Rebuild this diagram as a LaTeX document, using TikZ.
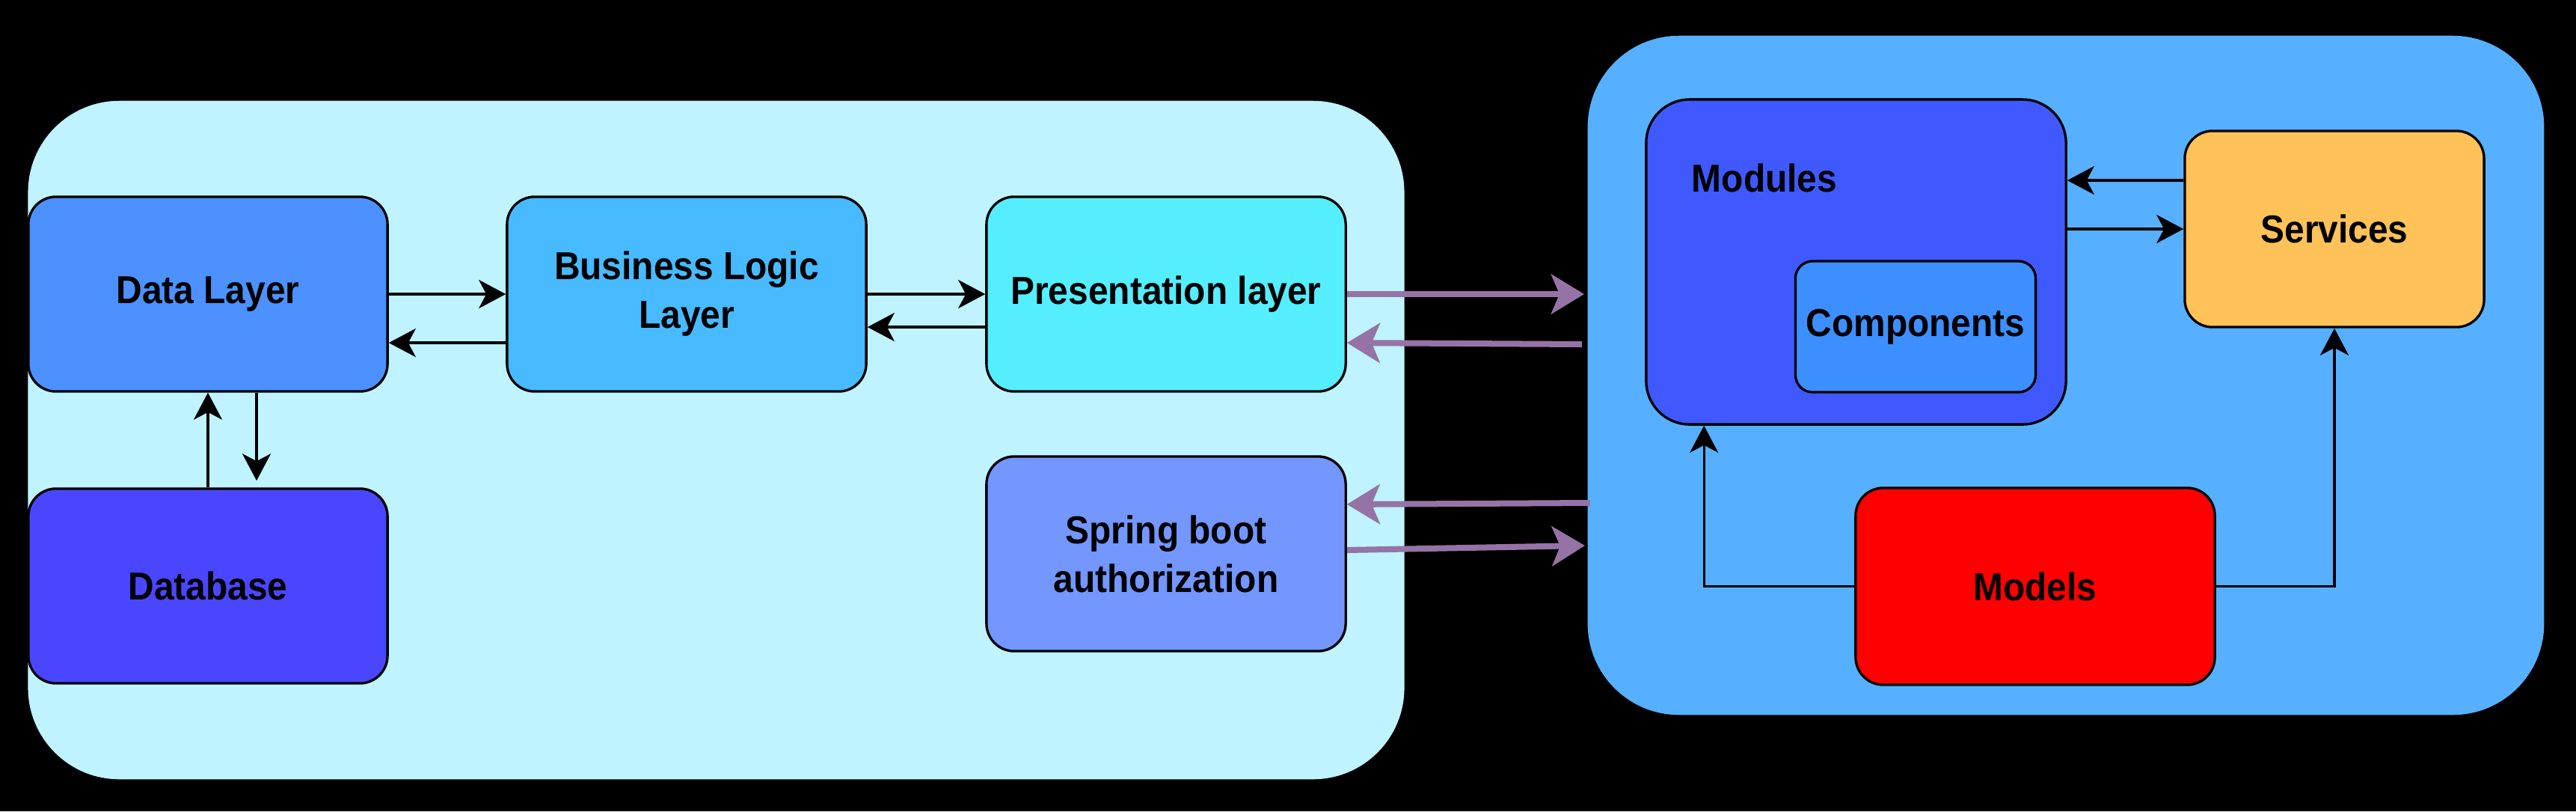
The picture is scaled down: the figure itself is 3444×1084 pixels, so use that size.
\documentclass[tikz,border=0pt]{standalone}
\usepackage{fontspec}
\setmainfont{Liberation Sans}[FakeStretch=0.92]
\usetikzlibrary{arrows.meta,calc}
\definecolor{lcfill}{HTML}{BFF3FF}
\definecolor{rcfill}{HTML}{57B0FF}
\definecolor{datafill}{HTML}{4C91FF}
\definecolor{bllfill}{HTML}{48BAFF}
\definecolor{presfill}{HTML}{55EEFF}
\definecolor{dbfill}{HTML}{4A46FF}
\definecolor{springfill}{HTML}{7396FF}
\definecolor{modfill}{HTML}{3F59FF}
\definecolor{compfill}{HTML}{3D8FFF}
\definecolor{servfill}{HTML}{FFC259}
\definecolor{modelfill}{HTML}{FF0000}
\definecolor{purp}{HTML}{9673A6}
\begin{document}
\begin{tikzpicture}[x=0.01cm,y=-0.01cm,
  every node/.style={font=\fontsize{14.8pt}{18.5pt}\selectfont\bfseries, text=black},
  cont/.style={draw=none, rounded corners=1.22cm, inner sep=0pt},
  box/.style={draw=black, line width=0.94pt, rounded corners=0.37cm, align=center, inner sep=0pt, minimum width=4.8cm, minimum height=2.6cm},
  blk/.style={draw=black, line width=0.94pt, -{Stealth[length=0.36cm,width=0.38cm,inset=0.1cm]}},
  prp/.style={draw=purp, line width=2.28pt, -{Stealth[length=0.44cm,width=0.53cm,inset=0.11cm]}},
]
\fill[black] (0,0) rectangle (3444,1084);
\useasboundingbox (0,0) rectangle (3444,1084);

\node[cont, fill=lcfill, minimum width=18.39cm, minimum height=9.06cm] (lc) at (957.5,588) {};
\node[cont, fill=rcfill, minimum width=12.78cm, minimum height=9.07cm] (rc) at (2762,501.5) {};

\node[box, fill=datafill] (data) at (278,393) {Data Layer};
\node[box, fill=bllfill] (bll) at (918,393) {Business Logic\\Layer};
\node[box, fill=presfill] (pres) at (1559,393) {Presentation layer};
\node[box, fill=dbfill] (db) at (278,783) {Database};
\node[box, fill=springfill] (spring) at (1559,740) {Spring boot\\authorization};
\node[box, fill=modfill, minimum width=5.61cm, minimum height=4.34cm, rounded corners=0.58cm] (mod) at (2481.5,350) {};
\node (modlbl) at (2359,238) {Modules};
\node[box, fill=compfill, minimum width=3.21cm, minimum height=1.75cm, rounded corners=0.23cm] (comp) at (2561,436.5) {Components};
\node[box, fill=servfill, minimum width=4.0cm, minimum height=2.62cm] (serv) at (3121,306) {Services};
\node[box, fill=modelfill, minimum width=4.8cm, minimum height=2.63cm] (models) at (2721,783.5) {Models};

\draw[blk] (data.east) -- (bll.west);
\draw[blk] ([yshift=-0.65cm]bll.west) -- ([yshift=-0.65cm]data.east);
\draw[blk] (bll.east) -- (pres.west);
\draw[blk] ([yshift=-0.44cm]pres.west) -- ([yshift=-0.44cm]bll.east);
\draw[blk] (db.north) -- (data.south);
\draw[blk] ([xshift=0.65cm]data.south) -- ([xshift=0.65cm,yshift=0.09cm]db.north);

\coordinate (s1) at ($(serv.west)+(0,-65)$);
\draw[blk] (s1) -- (s1 -| mod.east);
\draw[blk] (serv.west -| mod.east) -- (serv.west);
\coordinate (mA) at ($(mod.south west)+(79,0)$);
\draw[blk] (models.west) -| (mA);
\draw[blk] (models.east) -| (serv.south);

\coordinate (pe) at (pres.east -| rc.west);
\coordinate (se) at (spring.east -| rc.west);
\coordinate (r1) at ($(pe)+(-4,0)$);
\coordinate (r2) at ($(pe)+(-7,67)$);
\coordinate (r3) at ($(se)+(4,-68)$);
\coordinate (r4) at ($(se)+(-3,-11)$);
\draw[prp] (pres.east) -- (r1);
\draw[prp] (r2) -- ([yshift=-0.65cm]pres.east);
\draw[prp] (r3) -- ([yshift=0.66cm]spring.east);
\draw[prp] ([yshift=0.05cm]spring.east) -- (r4);
\end{tikzpicture}
\end{document}
